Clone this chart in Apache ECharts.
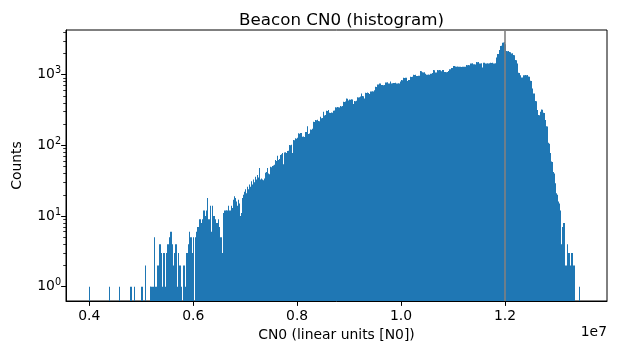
<!DOCTYPE html>
<html><head><meta charset="utf-8">
<script src="https://cdn.jsdelivr.net/npm/echarts@6/dist/echarts.min.js"></script>
<style>html,body{margin:0;padding:0;background:#fff}#c{width:617px;height:353px}</style>
</head><body><div id="c"></div>
<script>
// Histogram bins: start value and width of each bin (linear units [N0])
const binStart = 4.0e6;
const binWidth = 18994;
// Counts per bin
const counts = [
1,0,0,0,0,0,0,0,0,0,
0,0,0,0,0,0,0,0,0,0,
1,0,0,0,0,0,0,0,0,0,
1,0,0,0,0,0,0,0,0,0,
0,1,1,0,0,1,0,0,0,0,
0,0,1,1,0,0,2,0,0,0,
0,1,1,1,1,1,5,1,1,2,
2,4,4,3,1,3,3,1,3,4,
4,5,6,6,4,2,3,4,4,1,
3,2,2,1,0,2,2,1,3,3,
4,6,5,5,3,5,0,5,6,7,
7,9,9,8,9,12,12,10,12,18,
9,9,14,6,14,10,10,9,8,8,
9,7,5,5,3,11,12,12,12,12,
12,14,12,12,14,13,17,19,18,16,
14,17,15,10,11,18,20,22,24,21,
26,24,28,26,31,28,33,30,36,33,
38,35,48,33,34,33,32,34,41,42,
48,40,39,50,49,51,52,53,62,60,
71,62,64,73,75,78,54,79,80,78,
83,84,101,100,102,78,119,118,126,124,
128,148,146,149,150,143,132,134,131,154,
155,187,145,147,168,166,172,216,214,228,
226,230,222,220,254,241,243,298,265,268,
309,306,316,289,287,292,289,309,312,345,
342,348,345,343,360,356,362,414,410,418,
462,458,430,446,442,449,445,384,425,421,
428,478,474,480,490,543,500,497,460,555,
551,558,553,535,580,576,583,579,600,674,
670,677,728,724,753,750,713,716,710,714,
778,775,781,753,750,802,753,757,765,762,
768,753,749,756,752,802,839,835,904,900,
907,903,815,839,842,934,930,938,998,994,
1001,960,956,963,970,1124,1120,1080,1076,1084,
1030,1000,996,1004,1000,1030,1034,1060,1162,1158,
1070,1074,1162,1158,1166,1160,1120,1162,1165,1090,
1094,1086,1090,1130,1190,1195,1245,1240,1250,1330,
1326,1310,1300,1310,1295,1300,1295,1290,1300,1296,
1292,1298,1367,1362,1370,1365,1445,1440,1448,1400,
1404,1398,1508,1503,1510,1445,1440,1448,1260,1480,
1476,1445,1440,1450,1443,1447,1470,1466,1474,1445,
1440,1448,1757,1955,1960,2228,2540,2560,2827,2850,
2900,2700,2157,2150,2160,2090,2085,2000,2005,1892,
1890,1609,1600,1445,1064,1060,986,915,912,986,
982,990,985,988,940,938,839,820,815,640,
544,540,424,420,316,268,266,299,323,320,
290,288,228,187,185,109,105,78,59,58,
42,40,29,21,20,16,15,12,4,7,
8,8,2,2,4,3,3,2,3,3,
2,2,0,0,0,0,1
];
const xTicks = [4e6, 6e6, 8e6, 10e6, 12e6];
const yTicks = [1, 10, 100, 1000];
const yMinorTicks = [2,3,4,5,6,7,8,9,20,30,40,50,60,70,80,90,200,300,400,500,600,700,800,900,2000,3000,4000];
const refLineX = 12e6;
const xRange = [3.5516e6, 13.963e6];
const yRange = [0.6275, 4290];

const FONT = 'DejaVu Sans';
const barColor = '#1f77b4';

const binData = counts.map((c, i) => [binStart + i * binWidth, binStart + (i + 1) * binWidth, c]);

const chart = echarts.init(document.getElementById('c'), null, {renderer: 'canvas'});
chart.setOption({
  animation: false,
  backgroundColor: '#fff',
  title: {
    text: 'Beacon CN0 (histogram)',
    left: 336.5, top: 7, textAlign: 'center',
    textStyle: {fontFamily: FONT, fontSize: 16.7, fontWeight: 'normal', color: '#000'}
  },
  grid: {left: 66, right: 10, top: 30, bottom: 52, show: true, borderColor: '#000', borderWidth: 1, backgroundColor: 'transparent'},
  xAxis: {
    type: 'value', min: xRange[0], max: xRange[1], z: 5,
    name: 'CN0 (linear units [N0])', nameLocation: 'middle', nameGap: 26,
    nameTextStyle: {fontFamily: FONT, fontSize: 13.9, color: '#000'},
    axisLine: {show: true, onZero: false, lineStyle: {color: '#000', width: 1}},
    axisTick: {show: true, length: 4.9, lineStyle: {color: '#000', width: 1}, customValues: xTicks},
    axisLabel: {fontFamily: FONT, fontSize: 13.9, color: '#000', margin: 8, customValues: xTicks,
      formatter: v => (v / 1e7).toFixed(1)},
    splitLine: {show: false}
  },
  yAxis: [{
    type: 'log', min: yRange[0], max: yRange[1], logBase: 10, z: 5,
    name: 'Counts', nameLocation: 'middle', nameGap: 42,
    nameTextStyle: {fontFamily: FONT, fontSize: 13.9, color: '#000'},
    axisLine: {show: true, lineStyle: {color: '#000', width: 1}},
    axisTick: {show: true, length: 4.9, lineStyle: {color: '#000', width: 1}, customValues: yTicks},
    axisLabel: {margin: 4.9, customValues: yTicks,
      formatter: v => '{b|10}{s|' + Math.round(Math.log10(v)) + '}',
      rich: {
        b: {fontFamily: FONT, fontSize: 13.9, color: '#000', lineHeight: 18},
        s: {fontFamily: FONT, fontSize: 9.7, color: '#000', verticalAlign: 'top', lineHeight: 18}
      }},
    splitLine: {show: false}
  }, {
    type: 'log', min: yRange[0], max: yRange[1], logBase: 10, position: 'left', z: 5,
    axisLine: {show: false},
    axisTick: {show: true, length: 2.8, lineStyle: {color: '#000', width: 0.8}, customValues: yMinorTicks},
    axisLabel: {show: false},
    splitLine: {show: false}
  }],
  graphic: [{
    type: 'text', right: 10, top: 325,
    style: {text: '1e7', fontFamily: FONT, fontSize: 13.9, fill: '#000'}
  }],
  series: [{
    type: 'custom',
    coordinateSystem: 'cartesian2d',
    xAxisIndex: 0, yAxisIndex: 0,
    clip: true,
    data: binData,
    encode: {x: [0, 1], y: 2},
    renderItem: function (params, api) {
      const c = api.value(2);
      if (!(c > 0)) return null;
      const p0 = api.coord([api.value(0), c]);
      const p1 = api.coord([api.value(1), c]);
      const cs = params.coordSys;
      const bottom = cs.y + cs.height;
      const l = Math.round(p0[0]);
      const r = Math.max(Math.round(p1[0]), l + 1);
      return {type: 'rect', shape: {x: l, y: p0[1], width: r - l, height: bottom - p0[1]},
        style: {fill: barColor}};
    }
  }, {
    type: 'line', xAxisIndex: 0, yAxisIndex: 0, symbol: 'none', z: 4,
    data: [[refLineX, yRange[0]], [refLineX, yRange[1]]],
    lineStyle: {color: '#808080', width: 1.6}
  }]
});
</script></body></html>
